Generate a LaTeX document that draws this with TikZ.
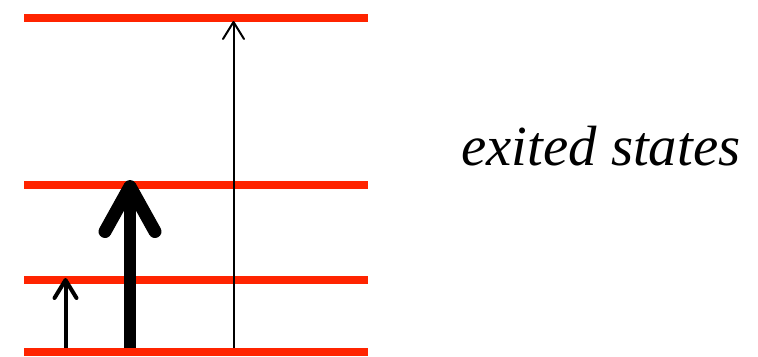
\documentclass[tikz,border=0pt]{standalone}
\usepackage{fontspec}
\setmainfont{Liberation Serif}
\usetikzlibrary{arrows.meta}
\definecolor{levelred}{RGB}{255,36,0}

\begin{document}
\begin{tikzpicture}[x=0.02cm, y=-0.02cm,
    level/.style={levelred, line width=0.16cm},
    jump/.style={black, line cap=butt}]
    \useasboundingbox (0,0) rectangle (758,356);

    % energy levels
    \foreach \name/\y in {e3/18, e2/185, e1/279.5, e0/352} {
        \coordinate (\name L) at (24,\y);
        \coordinate (\name R) at (368,\y);
        \draw[level] (\name L) -- (\name R);
    }

    % transitions
    \coordinate (a0) at (65.5,348);  \coordinate (a1) at (65.5,278);
    \coordinate (b0) at (130,348);   \coordinate (b1) at (130,180);
    \coordinate (c0) at (233.5,348); \coordinate (c1) at (233.5,21);
    \draw[jump, line width=0.08cm,
        -{Straight Barb[round, length=0.36cm, width=0.44cm]}] (a0) -- (a1);
    \draw[jump, line width=0.26cm,
        -{Straight Barb[round, length=0.9cm, width=1.0cm]}] (b0) -- (b1);
    \draw[jump, line width=0.04cm,
        -{Straight Barb[round, length=0.34cm, width=0.42cm]}] (c0) -- (c1);

    \node[anchor=base west, inner sep=0, font=\fontsize{32.3}{38}\selectfont\itshape]
        (label) at (461,165) {exited states};
\end{tikzpicture}
\end{document}
